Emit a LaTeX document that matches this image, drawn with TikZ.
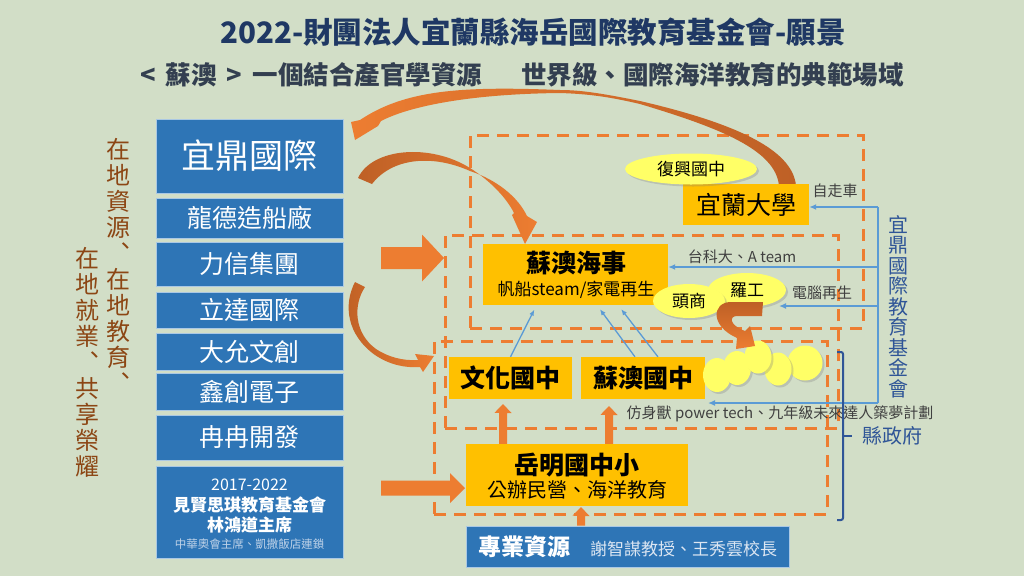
\documentclass[tikz,border=0pt]{standalone}
\usepackage{fontspec}
\setmainfont{Noto Sans CJK TC}
\usetikzlibrary{shapes.geometric,calc,shadows,arrows.meta}
\definecolor{bg}{RGB}{210,222,199}
\definecolor{titlec}{RGB}{31,56,100}
\definecolor{subc}{RGB}{51,63,80}
\definecolor{bxblue}{RGB}{46,117,182}
\definecolor{bxline}{RGB}{170,200,228}
\definecolor{orfill}{RGB}{255,192,0}
\definecolor{acc}{RGB}{237,125,49}
\definecolor{brn}{RGB}{190,96,38}
\definecolor{conblue}{RGB}{91,155,213}
\definecolor{navyt}{RGB}{47,85,151}
\definecolor{brtext}{RGB}{140,70,20}
\definecolor{yfill}{RGB}{255,255,102}
\definecolor{labgrey}{RGB}{64,64,64}
\definecolor{protext}{RGB}{220,230,242}
\definecolor{smallt}{RGB}{190,210,232}
\newcommand\myfs[1]{\fontsize{#1}{#1}\selectfont}
\tikzset{
  bluebox/.style={fill=bxblue, draw=bxline, line width=0.8pt, text=white, inner sep=0pt, minimum width=187pt},
  orbox/.style={fill=orfill, inner sep=0pt, text=black},
  dashbox/.style={draw=acc, line width=3pt, dash pattern=on 12pt off 8pt, inner sep=0pt, minimum width=393pt},
  yel/.style={ellipse, fill=yfill, inner sep=0pt, drop shadow={shadow xshift=2pt, shadow yshift=-2pt, opacity=0.3}},
  bluecon/.style={draw=conblue, line width=1.6pt},
  bluearr/.style={bluecon, -{Latex[length=7pt,width=6pt]}},
  lab/.style={text=labgrey, font=\myfs{15}, inner sep=0pt},
  vtext/.style={align=center, inner sep=0pt, anchor=north},
  blockarr/.style={fill=acc},
}
\begin{document}
\begin{tikzpicture}[x=1pt,y=-1pt]
\useasboundingbox (0,0) rectangle (1024,576);
\fill[bg] (0,0) rectangle (1024,576);

% titles
\node[font=\bfseries\myfs{29.5}, text=titlec, inner sep=0pt] (title) at (533,32) {2022-財團法人宜蘭縣海岳國際教育基金會-願景};
\node[font=\bfseries\myfs{25.5}, text=subc, inner sep=0pt] (sub) at (522,75) {<\hspace{10pt}蘇澳\hspace{10pt}>\hspace{10pt}一個結合產官學資源\hspace{39pt}世界級、國際海洋教育的典範場域};

% dashed regions
\node[dashbox, minimum height=193pt] (boxA) at (666.5,231.5) {};
\node[dashbox, minimum height=193pt] (boxB) at (641.5,331.5) {};
\node[dashbox, minimum height=173pt] (boxD) at (630.5,427.5) {};

% left column
\node[bluebox, minimum height=74pt, font=\myfs{34}] (yd) at (249.5,156) {宜鼎國際};
\node[bluebox, minimum height=40pt, font=\myfs{25}] (ld) at (249.5,218) {龍德造船廠};
\node[bluebox, minimum height=44pt, font=\myfs{25}] (lx) at (249.5,264) {力信集團};
\node[bluebox, minimum height=36pt, font=\myfs{25}] (lt) at (249.5,310) {立達國際};
\node[bluebox, minimum height=37pt, font=\myfs{25}] (dy) at (249.5,351.5) {大允文創};
\node[bluebox, minimum height=37pt, font=\myfs{25}] (xc) at (249.5,392) {鑫創電子};
\node[bluebox, minimum height=45pt, font=\myfs{25}] (rr) at (249.5,437.5) {冉冉開發};
\node[bluebox, minimum height=92pt] (jx) at (249.5,512) {};
\node[font=\myfs{16}, text=white] (jx1) at (249.5,485) {2017-2022};
\node[font=\bfseries\myfs{17}, text=white] (jx2) at (249.5,505) {見賢思琪教育基金會};
\node[font=\bfseries\myfs{17}, text=white] (jx3) at (249.5,525) {林鴻道主席};
\node[font=\myfs{11.5}, text=smallt] (jx4) at (249.5,544) {中華奧會主席、凱撒飯店連鎖};

% vertical brown text
\node[vtext, text=brtext, font=\fontsize{24}{26}\selectfont] (v1) at (118,138) {在\\地\\資\\源\\︑\\在\\地\\教\\育\\︑};
\node[vtext, text=brtext, font=\fontsize{24}{26}\selectfont] (v2) at (87,247) {在\\地\\就\\業\\︑\\共\\享\\榮\\耀};

% curved arrows
\shade[left color=acc, right color=brn]
  (796,186) .. controls (793,148) and (730,122) .. (640,101)
  .. controls (600,93) and (580,90) .. (560,90)
  .. controls (460,86) and (405,90) .. (360,120)
  -- (351,122) -- (355,140) -- (378,126) -- (381,121)
  .. controls (410,106) and (470,94) .. (560,93)
  .. controls (590,94) and (610,97) .. (640,104)
  .. controls (720,128) and (776,150) .. (779,186) -- cycle;
\shade[left color=brn, right color=acc]
  (358,178) .. controls (372,148) and (430,143) .. (470,168)
  .. controls (492,182) and (507,199) .. (514,213)
  -- (512,215) -- (525,244) -- (537,222) -- (527,216)
  .. controls (518,197) and (497,180) .. (470,171)
  .. controls (432,154) and (392,158) .. (372,184) -- cycle;
\shade[left color=brn, right color=acc]
  (355,282) .. controls (343,305) and (347,335) .. (375,355)
  .. controls (390,365) and (405,368) .. (420,367)
  -- (423,372) -- (434,356) -- (415,354) -- (418,360)
  .. controls (403,361) and (388,357) .. (376,349)
  .. controls (354,333) and (353,305) .. (365,287) -- cycle;

% orange boxes
\node[orbox, minimum width=126pt, minimum height=41pt, font=\myfs{25}] (ilan) at (746,204.5) {宜蘭大學};
\node[orbox, minimum width=185pt, minimum height=61pt] (sue) at (575.5,274.5) {};
\node[font=\bfseries\myfs{25}, inner sep=0pt] (sue1) at (576,263) {蘇澳海事};
\node[font=\myfs{17}, inner sep=0pt] (sue2) at (576,290) {帆船steam/家電再生};
\node[orbox, minimum width=123pt, minimum height=42pt, font=\bfseries\myfs{25}] (wh) at (510.5,378) {文化國中};
\node[orbox, minimum width=124pt, minimum height=42pt, font=\bfseries\myfs{25}] (sa) at (643,378) {蘇澳國中};
\node[orbox, minimum width=222pt, minimum height=62pt] (ym) at (577,475) {};
\node[font=\bfseries\myfs{25}, inner sep=0pt] (ym1) at (577,465) {岳明國中小};
\node[font=\myfs{20}, inner sep=0pt] (ym2) at (577,490) {公辦民營、海洋教育};
\node[bluebox, minimum width=323pt, minimum height=41pt] (pro) at (627.5,546.5)
  {{\bfseries\myfs{23}專業資源}\hspace{20pt}{\color{protext}\myfs{17}謝智謀教授、王秀雲校長}};

% yellow ellipses
\node[yel, minimum width=132pt, minimum height=31pt, font=\myfs{17}] (fx) at (691,169) {復興國中};
\node[yel, minimum width=78pt, minimum height=34pt, font=\myfs{17}] (lg) at (747,290) {羅工};
\node[yel, minimum width=72pt, minimum height=34pt, font=\myfs{17}] (ts) at (689,301) {頭商};
\node[yel, minimum width=35pt, minimum height=35pt] (c5) at (805,363) {};
\node[yel, minimum width=27pt, minimum height=33pt] (c4) at (778,369) {};
\node[yel, minimum width=28pt, minimum height=34pt] (c1) at (717,375) {};
\node[yel, minimum width=28pt, minimum height=34pt] (c2) at (737,368) {};
\node[yel, minimum width=27pt, minimum height=33pt] (c3) at (758,357) {};

% U arrow from 羅工 to circles
\shade[top color=brn, bottom color=acc]
  (763,302) -- (730,302) .. controls (712,303) and (710,326) .. (737,338)
  -- (736,349) -- (755,346) -- (750,326) -- (745,331)
  .. controls (729,325) and (729,316) .. (737,316) -- (762,316) -- cycle;

% block arrows
\coordinate (ba1) at (444,258);
\coordinate (ba2) at (465,488);
\coordinate (ua1) at (503,404);
\coordinate (ua2) at (609,406);
\coordinate (ua3) at (581,507);
\fill[blockarr] (ba1) -- ++(-22,-23.5) -- ++(0,12.5) -- ++(-41,0) -- ++(0,22) -- ++(41,0) -- ++(0,12.5) -- cycle;
\fill[blockarr] (ba2) -- ++(-15,-15) -- ++(0,7.5) -- ++(-69,0) -- ++(0,15) -- ++(69,0) -- ++(0,7.5) -- cycle;
\fill[blockarr] (ua1) -- ++(8.5,9) -- ++(-4.5,0) -- ($(ua1 |- ym.north)+(4,0)$) -- ($(ua1 |- ym.north)+(-4,0)$) -- ++(0,-31) -- ++(-4.5,0) -- cycle;
\fill[blockarr] (ua2) -- ++(8.5,9) -- ++(-4.5,0) -- ($(ua2 |- ym.north)+(4,0)$) -- ($(ua2 |- ym.north)+(-4,0)$) -- ++(0,-29) -- ++(-4.5,0) -- cycle;
\fill[blockarr] (ua3) -- ++(8.5,9) -- ++(-4.5,0) -- ($(ua3 |- pro.north)+(4,0)$) -- ($(ua3 |- pro.north)+(-4,0)$) -- ++(0,-10) -- ++(-4.5,0) -- cycle;

% blue connectors
\coordinate (bvTop) at (878,207);
\coordinate (bv2) at (878,267);
\coordinate (bv3) at (878,306);
\coordinate (bvBot) at (878,403);
\coordinate (lgEnd) at (779,306);
\coordinate (saEnd) at (708,403);
\draw[bluecon] (bvTop) -- (bvBot);
\draw[bluearr] (bvTop) -- (bvTop -| ilan.east);
\draw[bluearr] (bv2) -- (bv2 -| sue.east);
\draw[bluearr] (bv3) -- (lgEnd);
\draw[bluearr] (bvBot) -- (saEnd);
\draw[bluecon, line width=1.3pt, -{Latex[length=6pt,width=5pt]}, shorten >=5pt] (wh.north) -- ($(sue.south west)!0.29!(sue.south east)$);
\draw[bluecon, line width=1.3pt, -{Latex[length=6pt,width=5pt]}, shorten >=5pt] ($(sa.north west)!0.435!(sa.north east)$) -- ($(sue.south west)!0.616!(sue.south east)$);
\draw[bluecon, line width=1.3pt, -{Latex[length=6pt,width=5pt]}, shorten >=5pt] ($(sa.north west)!0.62!(sa.north east)$) -- ($(sue.south west)!0.73!(sue.south east)$);

% labels
\node[lab] (l1) at (835,191) {自走車};
\node[lab] (l2) at (742,257) {台科大、A team};
\node[lab] (l3) at (822,293) {電腦再生};
\node[lab] (l4) at (780,414) {仿身獸 power tech、九年級未來達人築夢計劃};

% right side
\node[vtext, text=navyt, font=\fontsize{20}{20.5}\selectfont] (yv) at (898,215) {宜\\鼎\\國\\際\\教\\育\\基\\金\\會};
\node[text=navyt, font=\myfs{20}, inner sep=0pt] (gov) at (892,436) {縣政府};
\draw[navyt, line width=2pt, rounded corners=2pt] (837,352) -- (843,352) -- (843,520) -- (837,520);
\draw[navyt, line width=2pt] (843,436) -- (852,436);
\end{tikzpicture}
\end{document}
